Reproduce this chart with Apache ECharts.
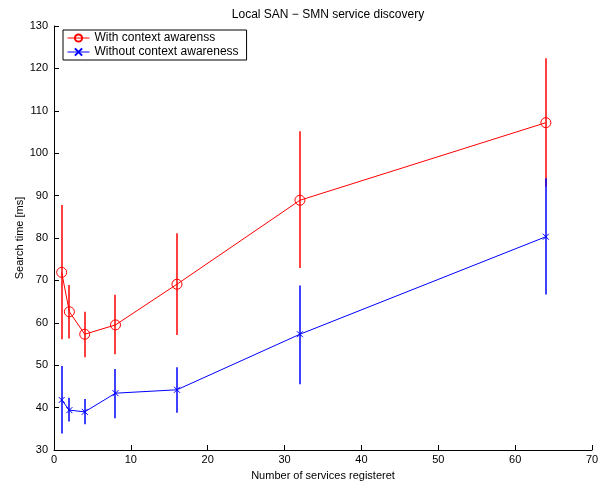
<!DOCTYPE html>
<html>
<head>
<meta charset="utf-8">
<script src="https://cdn.jsdelivr.net/npm/echarts@6/dist/echarts.min.js"></script>
<style>
  html, body { margin: 0; padding: 0; background: #fff; }
  #chart { width: 615px; height: 486px; }
</style>
</head>
<body>
<div id="chart"></div>
<script>
const services = [1, 2, 4, 8, 16, 32, 64];

const withMean = [71.9, 62.6, 57.3, 59.5, 69.1, 88.9, 107.2];
const withLow = [56.1, 56.3, 51.9, 52.6, 57.1, 72.9, 92.1];
const withHigh = [87.8, 68.9, 62.6, 66.6, 81.1, 105.2, 122.4];

const withoutMean = [41.8, 39.4, 39.0, 43.4, 44.2, 57.3, 80.3];
const withoutLow = [33.9, 36.7, 36.1, 37.5, 38.8, 45.5, 66.7];
const withoutHigh = [49.8, 42.3, 42.0, 49.1, 49.5, 68.8, 94.1];

const font = 'Liberation Sans, Arial, Helvetica, sans-serif';
const crossPath = 'path://M0,0L10,10M10,0L0,10';

const chart = echarts.init(document.getElementById('chart'));

// vertical error bar drawn from [x, low, high]
function errorBars(color) {
    return function (params, api) {
        const lo = api.coord([api.value(0), api.value(1)]);
        const hi = api.coord([api.value(0), api.value(2)]);
        const x = Math.round(lo[0]);
        return {
            type: 'line',
            shape: { x1: x, y1: lo[1], x2: x, y2: hi[1] },
            style: { stroke: color, lineWidth: 1.5 }
        };
    };
}

const option = {
    animation: false,
    backgroundColor: '#fff',
    title: {
        text: 'Local SAN \u2212 SMN service discovery',
        left: 323,
        textAlign: 'center',
        top: 4,
        textStyle: { fontFamily: font, fontSize: 12, fontWeight: 'normal', color: '#000' }
    },
    legend: {
        left: 63,
        top: 30,
        orient: 'vertical',
        data: ['With context awarenss', 'Without context awareness'],
        backgroundColor: '#fff',
        borderColor: '#000',
        borderWidth: 1,
        padding: [2, 8, 2, 4],
        itemGap: 2,
        itemWidth: 22,
        itemHeight: 9,
        lineStyle: { width: 1 },
        textStyle: { fontFamily: font, fontSize: 12, color: '#000' }
    },
    grid: { left: 54, right: 23, top: 26, bottom: 36 },
    xAxis: {
        type: 'value',
        min: 0,
        max: 70,
        interval: 10,
        name: 'Number of services registeret',
        nameLocation: 'middle',
        nameGap: 20,
        nameTextStyle: { fontFamily: font, fontSize: 11, color: '#000' },
        axisLine: { lineStyle: { color: '#000' } },
        axisTick: { inside: true, length: 5, lineStyle: { color: '#000' } },
        axisLabel: { fontFamily: font, fontSize: 11, color: '#000', margin: 4 },
        splitLine: { show: false }
    },
    yAxis: {
        type: 'value',
        min: 30,
        max: 130,
        interval: 10,
        name: 'Search time [ms]',
        nameLocation: 'middle',
        nameGap: 29,
        nameMoveOverlap: false,
        nameTextStyle: { fontFamily: font, fontSize: 11, color: '#000' },
        axisLine: { show: true, lineStyle: { color: '#000' } },
        axisTick: { show: true, inside: true, length: 5, lineStyle: { color: '#000' } },
        axisLabel: { fontFamily: font, fontSize: 11, color: '#000', margin: 6 },
        splitLine: { show: false }
    },
    series: [
        {
            name: 'err-with',
            type: 'custom',
            renderItem: errorBars('#ff0000'),
            data: services.map((x, i) => [x, withLow[i], withHigh[i]]),
            z: 1,
            silent: true
        },
        {
            name: 'err-without',
            type: 'custom',
            renderItem: errorBars('#0000ff'),
            data: services.map((x, i) => [x, withoutLow[i], withoutHigh[i]]),
            z: 2,
            silent: true
        },
        {
            name: 'With context awarenss',
            type: 'line',
            color: '#ff0000',
            data: services.map((x, i) => [x, withMean[i]]),
            symbol: 'circle',
            symbolSize: 10,
            showAllSymbol: true,
            lineStyle: { color: '#ff0000', width: 1 },
            itemStyle: { color: 'rgba(0,0,0,0)', borderColor: '#ff0000', borderWidth: 1 },
            z: 3
        },
        {
            name: 'Without context awareness',
            type: 'line',
            color: '#0000ff',
            data: services.map((x, i) => [x, withoutMean[i]]),
            symbol: crossPath,
            symbolSize: 6,
            showAllSymbol: true,
            lineStyle: { color: '#0000ff', width: 1 },
            itemStyle: { color: 'rgba(0,0,0,0)', borderColor: '#0000ff', borderWidth: 1 },
            z: 4
        }
    ]
};

chart.setOption(option);
</script>
</body>
</html>
